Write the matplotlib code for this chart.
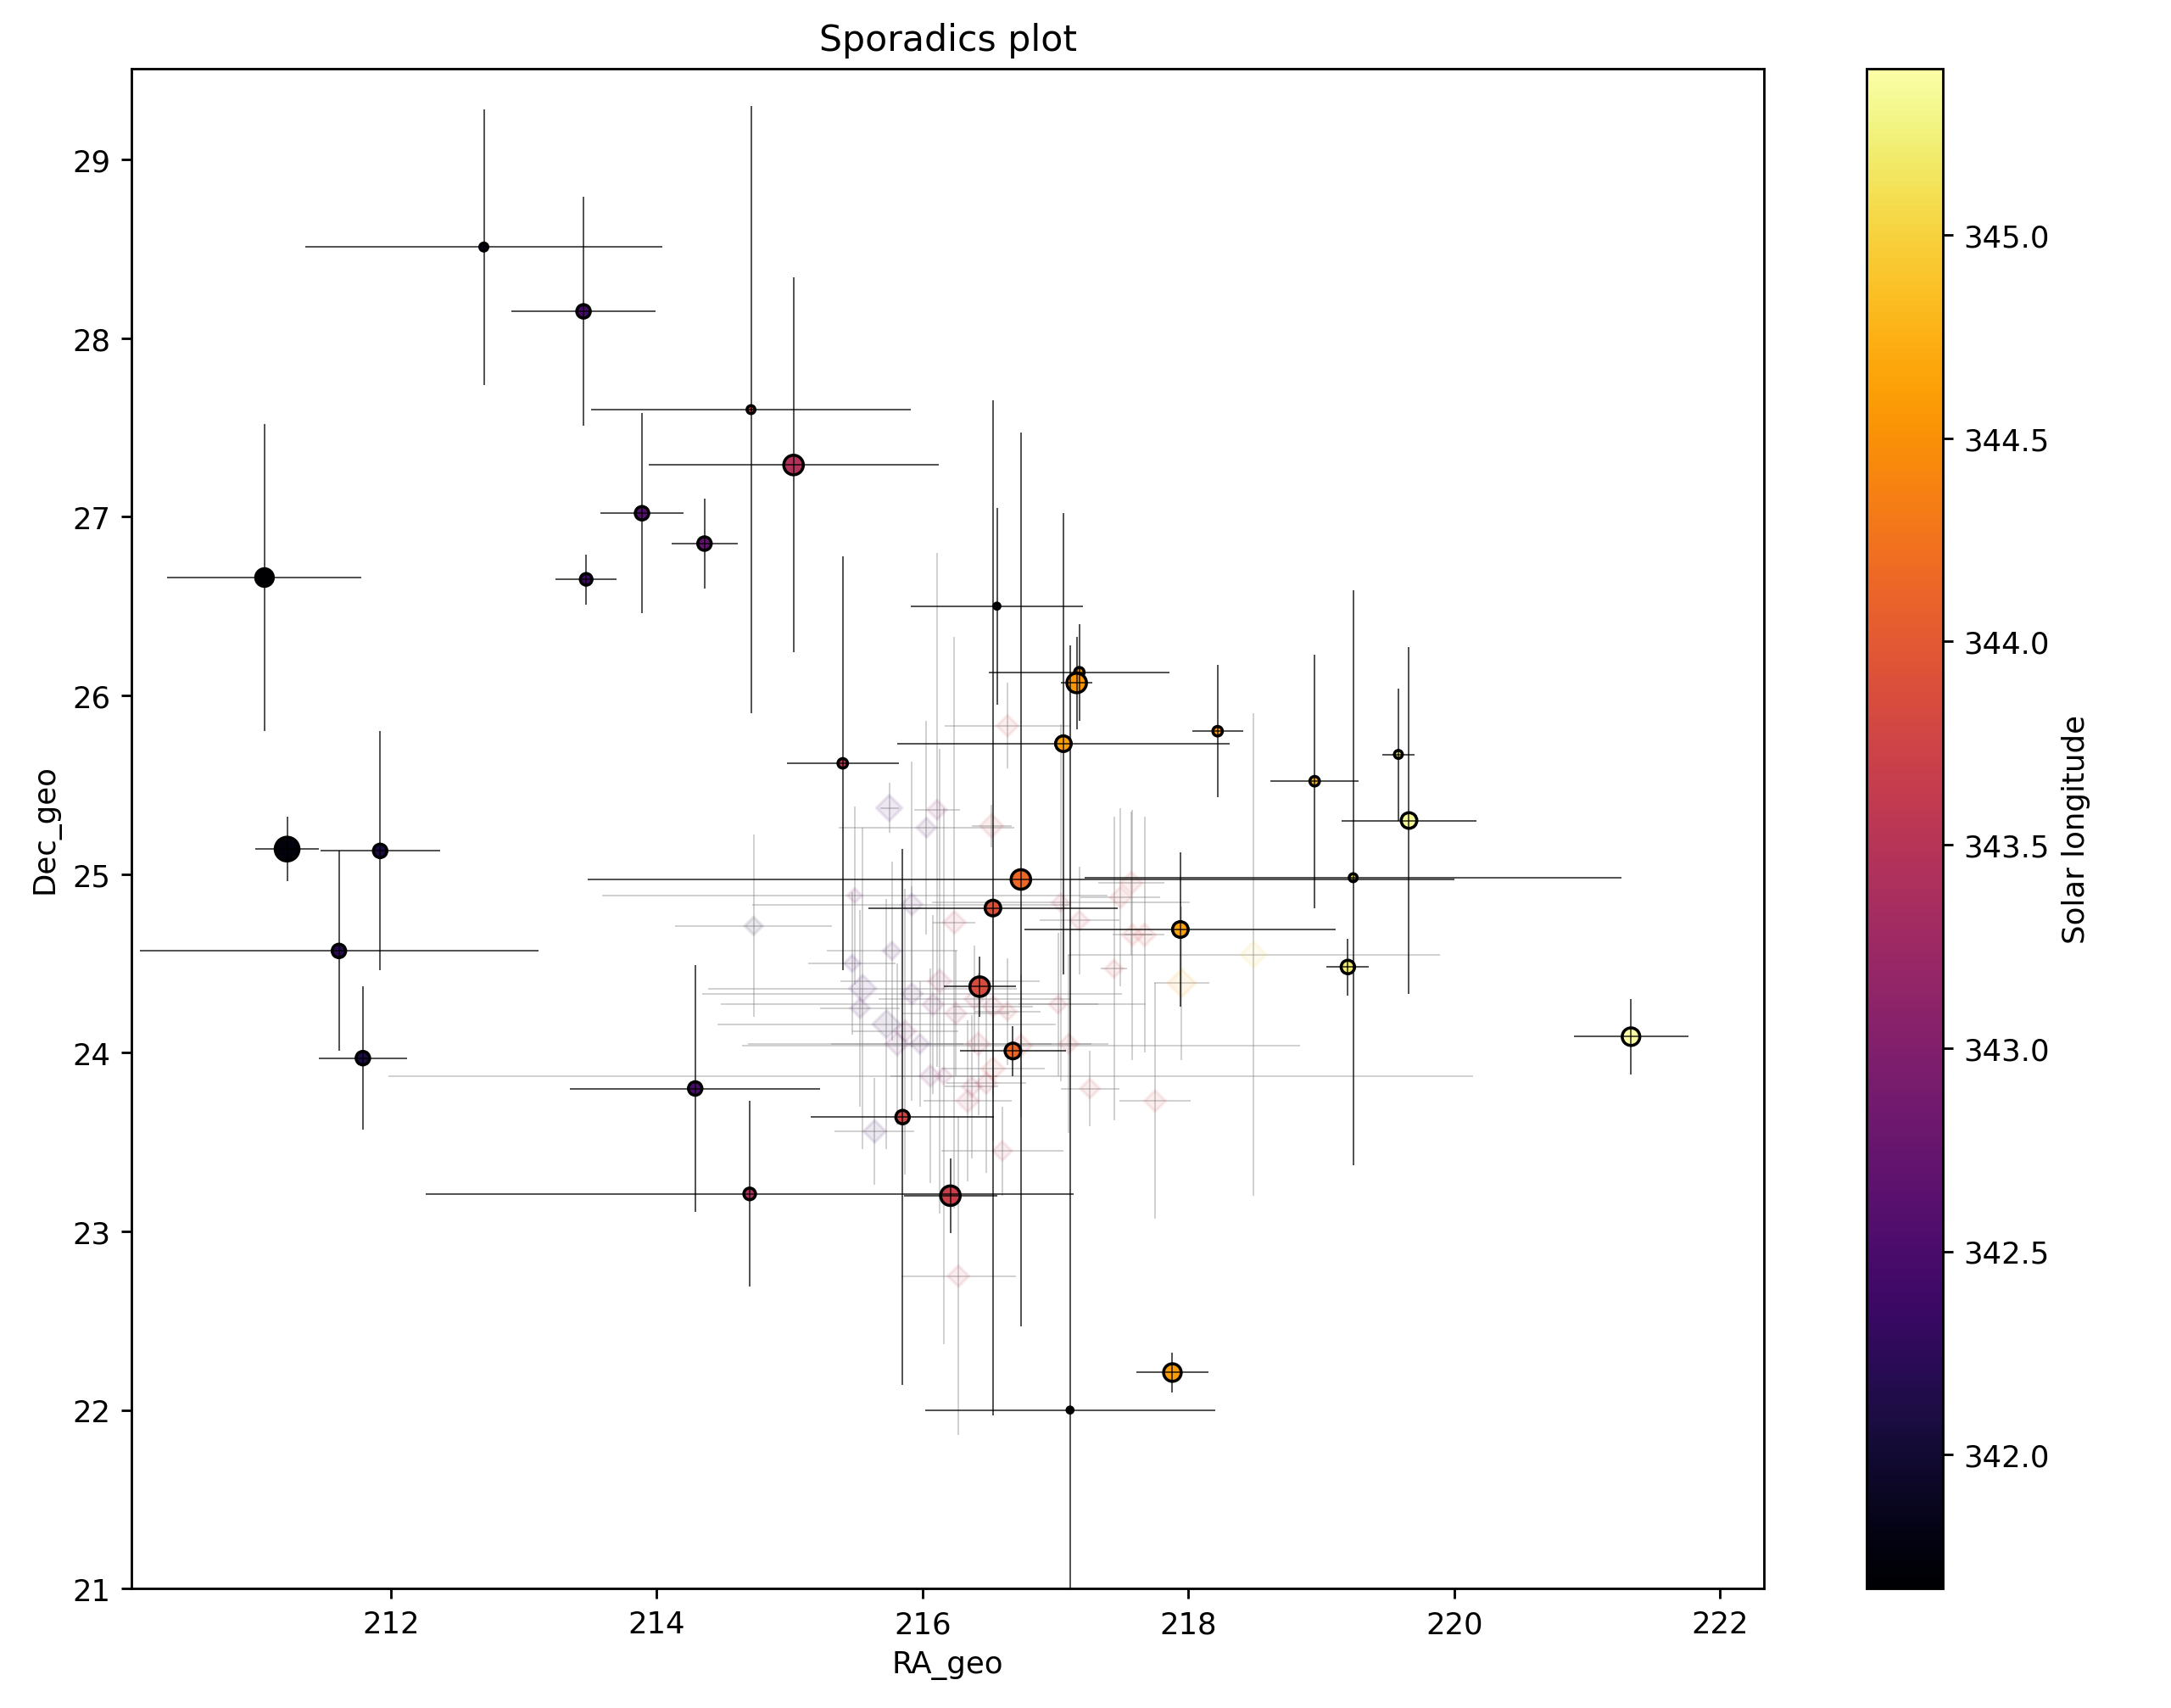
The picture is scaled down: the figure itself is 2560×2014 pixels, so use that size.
import numpy as np
import matplotlib
matplotlib.use("Agg")
import matplotlib.pyplot as plt

# main sporadics (solid circles)
ra = [212.70, 213.45, 214.71, 215.03, 213.89, 214.36, 213.47, 211.05, 211.22, 211.92,
      211.61, 211.79, 214.29, 214.70, 215.40, 215.85, 216.21, 216.43, 216.53, 216.74,
      216.68, 216.56, 217.18, 217.16, 217.06, 218.22, 217.94, 217.88, 217.11, 218.95,
      219.58, 219.66, 219.24, 219.20, 221.33]
dec = [28.51, 28.15, 27.60, 27.29, 27.02, 26.85, 26.65, 26.66, 25.14, 25.13,
       24.57, 23.97, 23.80, 23.21, 25.62, 23.64, 23.20, 24.37, 24.81, 24.97,
       24.01, 26.50, 26.13, 26.07, 25.73, 25.80, 24.69, 22.21, 22.00, 25.52,
       25.67, 25.30, 24.98, 24.48, 24.09]
ra_err = [1.34, 0.54, 1.20, 1.09, 0.31, 0.25, 0.23, 0.73, 0.24, 0.45,
          1.50, 0.33, 0.94, 2.44, 0.42, 0.69, 0.35, 0.27, 0.94, 3.26,
          0.40, 0.65, 0.68, 0.12, 1.25, 0.19, 1.17, 0.27, 1.09, 0.33,
          0.12, 0.51, 2.02, 0.16, 0.43]
dec_err = [0.77, 0.64, 1.70, 1.05, 0.56, 0.25, 0.14, 0.86, 0.18, 0.67,
           0.56, 0.40, 0.69, 0.52, 1.16, 1.50, 0.21, 0.17, 2.84, 2.50,
           0.14, 0.55, 0.27, 0.26, 1.29, 0.37, 0.43, 0.11, 4.28, 0.71,
           0.37, 0.97, 1.61, 0.16, 0.21]
sol = [341.95, 342.45, 343.70, 343.45, 342.60, 342.70, 342.40, 341.67, 341.75, 342.10,
       342.20, 342.10, 342.50, 343.45, 343.60, 343.75, 343.70, 343.85, 343.90, 344.15,
       344.15, 342.00, 344.50, 344.55, 344.60, 344.60, 344.65, 344.60, 341.90, 344.80,
       345.20, 345.35, 345.10, 345.20, 345.41]
size = [7, 20, 7, 42, 20, 20, 15, 34, 62, 20,
        20, 20, 20, 15, 10, 20, 42, 42, 27, 42,
        27, 4, 10, 42, 27, 10, 27, 34, 4, 10,
        7, 27, 7, 20, 34]

# faded points (diamonds)
ra_f = [216.64, 215.75, 216.11, 216.03, 216.52, 215.49, 215.92, 216.24, 214.73, 217.04,
        217.49, 217.57, 217.18, 217.58, 217.67, 217.44, 217.95, 218.49, 215.77, 215.47,
        215.55, 216.13, 215.92, 215.53, 215.73, 216.08, 216.25, 216.53, 216.64, 216.39,
        215.81, 215.98, 215.87, 216.42, 216.74, 217.10, 217.02, 216.06, 216.16, 216.53,
        216.48, 216.37, 216.34, 217.26, 217.75, 215.64, 216.60, 216.27]
dec_f = [25.83, 25.37, 25.36, 25.26, 25.27, 24.88, 24.83, 24.73, 24.71, 24.84,
         24.87, 24.95, 24.74, 24.66, 24.66, 24.47, 24.39, 24.55, 24.57, 24.50,
         24.36, 24.40, 24.33, 24.25, 24.16, 24.27, 24.22, 24.26, 24.23, 24.30,
         24.05, 24.05, 24.12, 24.05, 24.04, 24.05, 24.27, 23.87, 23.87, 23.91,
         23.83, 23.81, 23.73, 23.80, 23.73, 23.56, 23.45, 22.75]
ra_err_f = [0.47, 0.07, 0.17, 0.66, 0.15, 1.90, 1.20, 0.16, 0.59, 0.97,
            0.30, 0.25, 0.30, 0.15, 0.15, 0.10, 0.21, 1.40, 0.49, 0.33,
            1.16, 0.75, 1.58, 0.30, 1.27, 1.60, 0.40, 0.30, 0.25, 0.72,
            0.50, 1.29, 0.40, 0.55, 2.10, 0.30, 0.30, 4.08, 0.40, 0.39,
            0.30, 0.20, 0.33, 0.22, 0.27, 0.30, 0.46, 0.43]
dec_err_f = [0.24, 0.14, 1.44, 0.60, 0.12, 0.50, 0.80, 1.60, 0.51, 1.00,
             0.50, 0.40, 0.30, 0.70, 0.66, 0.85, 0.43, 1.35, 0.50, 0.40,
             0.90, 1.30, 0.60, 0.55, 0.70, 0.50, 0.35, 0.50, 0.30, 0.30,
             0.45, 0.35, 0.80, 0.40, 0.40, 0.50, 0.40, 0.60, 1.50, 0.40,
             0.50, 0.40, 0.45, 0.21, 0.66, 0.30, 0.25, 0.89]
sol_f = [343.8, 342.4, 343.0, 342.5, 343.7, 342.8, 342.5, 343.6, 342.0, 343.6,
         343.7, 343.8, 343.6, 343.8, 343.8, 343.7, 344.6, 345.0, 342.5, 342.4,
         342.4, 343.3, 342.6, 342.5, 342.3, 343.0, 343.4, 343.6, 343.7, 343.4,
         342.8, 342.6, 343.0, 343.6, 343.7, 343.7, 343.6, 342.9, 343.2, 343.8,
         343.5, 343.4, 343.5, 343.7, 343.8, 342.3, 343.6, 343.6]
size_f = [25, 37, 21, 21, 30, 12, 25, 28, 18, 18,
          25, 28, 21, 25, 28, 18, 43, 37, 18, 15,
          40, 30, 25, 21, 43, 25, 25, 25, 18, 21,
          30, 21, 25, 28, 28, 21, 18, 25, 15, 30,
          25, 21, 28, 21, 25, 28, 21, 25]

fig = plt.figure(figsize=(10, 7.871), dpi=256)
ax = fig.add_axes([0.0606, 0.0698, 0.7519, 0.8897])
cax = fig.add_axes([0.8597, 0.0698, 0.0351, 0.8897])

vmin, vmax = min(sol), max(sol)

ax.errorbar(ra_f, dec_f, xerr=ra_err_f, yerr=dec_err_f, fmt='none',
            ecolor='gray', elinewidth=0.45, alpha=0.45, zorder=1)
ax.scatter(ra_f, dec_f, c=sol_f, s=size_f, marker='D', cmap='inferno',
           vmin=vmin, vmax=vmax, alpha=0.09, zorder=1)

sc = ax.scatter(ra, dec, c=sol, s=size, cmap='inferno', vmin=vmin, vmax=vmax,
                edgecolors='black', linewidths=1.0, zorder=2)
ax.errorbar(ra, dec, xerr=ra_err, yerr=dec_err, fmt='none',
            ecolor='black', elinewidth=0.5, alpha=0.75, zorder=3)

ax.set_xlim(210.05, 222.33)
ax.set_ylim(21, 29.51)
ax.set_title("Sporadics plot")
ax.set_xlabel("RA_geo")
ax.set_ylabel("Dec_geo")

cb = fig.colorbar(sc, cax=cax)
cb.set_label("Solar longitude")

fig.savefig("out.png", dpi=256)
